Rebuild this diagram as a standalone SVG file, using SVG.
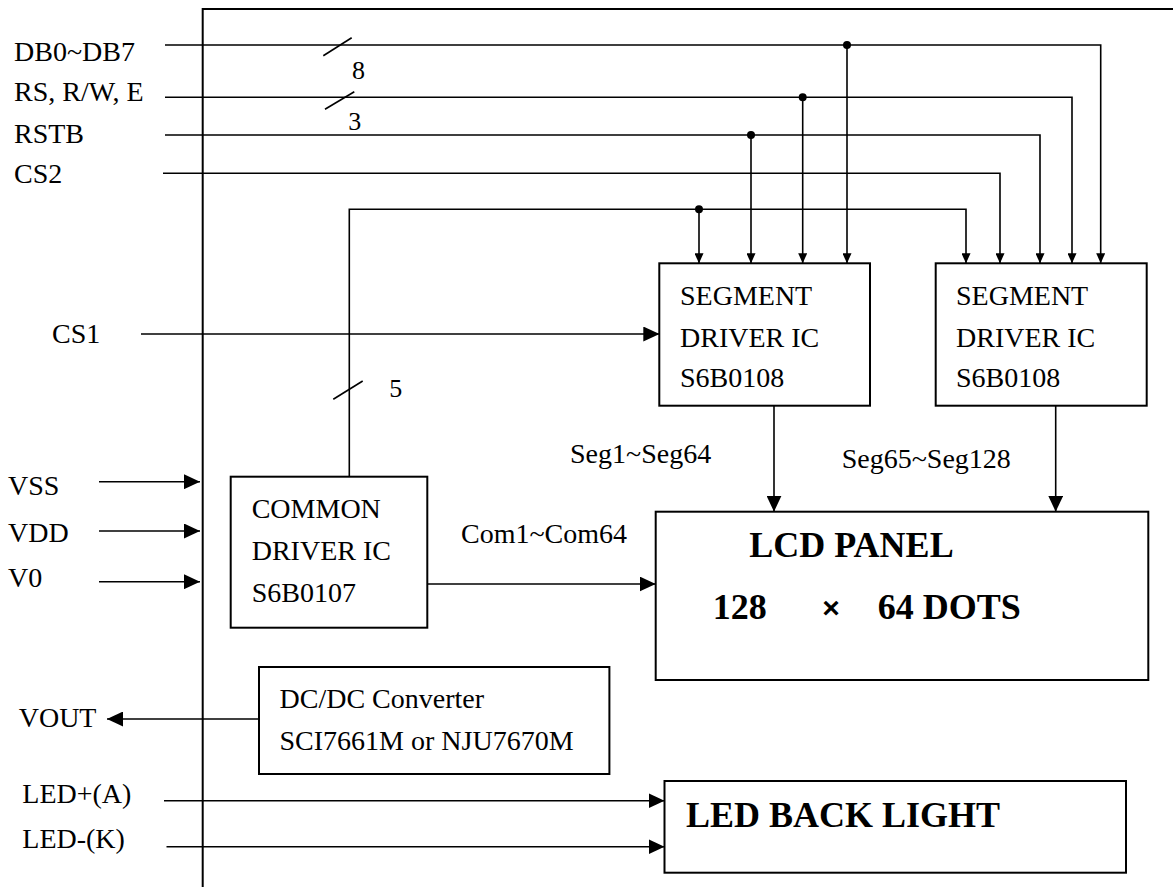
<svg xmlns="http://www.w3.org/2000/svg" width="1174" height="887" viewBox="0 0 1174 887">
<style>
.t{font-family:"Liberation Serif","Times New Roman",serif;font-size:28px;fill:#000}
.b{font-family:"Liberation Serif","Times New Roman",serif;font-size:36px;font-weight:bold;fill:#000}
.box{fill:#fff;stroke:#000;stroke-width:2}
.ln{fill:none;stroke:#000;stroke-width:1.6}
.fr{fill:none;stroke:#000;stroke-width:2}
</style>
<defs>
<marker id="as" markerUnits="userSpaceOnUse" markerWidth="10" markerHeight="9" refX="10" refY="4.5" orient="auto"><path d="M0,0 L10,4.5 L0,9 z" fill="#000"/></marker>
<marker id="am" markerUnits="userSpaceOnUse" markerWidth="16" markerHeight="15" refX="16" refY="7.5" orient="auto"><path d="M0,0 L16,7.5 L0,15 z" fill="#000"/></marker>
</defs>
<rect width="1174" height="887" fill="#fff"/>
<g id="frame">
<path class="fr" d="M202.7,887 V9 H1173"/>
</g>
<g id="connectors">
<path class="ln" d="M165,45 H1100.7 V263.3" marker-end="url(#as)"/>
<path class="ln" d="M847,45 V263.3" marker-end="url(#as)"/>
<path class="ln" d="M165,97.3 H1072 V263.3" marker-end="url(#as)"/>
<path class="ln" d="M802.7,97.3 V263.3" marker-end="url(#as)"/>
<path class="ln" d="M165,135 H1040 V263.3" marker-end="url(#as)"/>
<path class="ln" d="M751,135 V263.3" marker-end="url(#as)"/>
<path class="ln" d="M163,173.3 H1000 V263.3" marker-end="url(#as)"/>
<path class="ln" d="M349.3,476.7 V209.3 H966 V263.3" marker-end="url(#as)"/>
<path class="ln" d="M699,209.3 V263.3" marker-end="url(#as)"/>
<circle cx="847" cy="45" r="4"/>
<circle cx="802.7" cy="97.3" r="4"/>
<circle cx="751" cy="135" r="4"/>
<circle cx="699" cy="209.3" r="4"/>
<path class="ln" d="M323.3,55.7 L351.7,37.7"/>
<path class="ln" d="M325,109.3 L354.3,91.7"/>
<path class="ln" d="M333.3,399.3 L362.7,381"/>
<path class="ln" d="M141,334 H659.3" marker-end="url(#am)"/>
<path class="ln" d="M99,481.7 H200" marker-end="url(#am)"/>
<path class="ln" d="M99,531 H200" marker-end="url(#am)"/>
<path class="ln" d="M99,581.7 H200" marker-end="url(#am)"/>
<path class="ln" d="M427.3,584 H655.7" marker-end="url(#am)"/>
<path class="ln" d="M774,405.7 V511.7" marker-end="url(#am)"/>
<path class="ln" d="M1055.7,405.7 V511.7" marker-end="url(#am)"/>
<path class="ln" d="M259,719 H107" marker-end="url(#am)"/>
<path class="ln" d="M164,800.7 H664.5" marker-end="url(#am)"/>
<path class="ln" d="M166.5,846.7 H664.5" marker-end="url(#am)"/>
</g>
<g id="labels">
<text class="t" x="14" y="60.5">DB0~DB7</text>
<text class="t" x="14" y="100.5">RS, R/W, E</text>
<text class="t" x="14" y="143.3">RSTB</text>
<text class="t" x="14" y="183.3">CS2</text>
<text class="t" x="52" y="342.7">CS1</text>
<text class="t" x="8" y="495">VSS</text>
<text class="t" x="8" y="542">VDD</text>
<text class="t" x="8" y="587">V0</text>
<text class="t" x="18.7" y="727.3">VOUT</text>
<text class="t" x="22.3" y="802.7">LED+(A)</text>
<text class="t" x="22.3" y="848.3">LED-(K)</text>
<text class="t" x="352" y="79.3" style="font-size:26px">8</text>
<text class="t" x="348.3" y="130" style="font-size:26px">3</text>
<text class="t" x="389.3" y="397.3" style="font-size:26px">5</text>
<text class="t" x="570" y="463.3">Seg1~Seg64</text>
<text class="t" x="841.7" y="468.3">Seg65~Seg128</text>
<text class="t" x="461" y="542.7">Com1~Com64</text>
</g>
<g id="seg1">
<rect class="box" x="659.3" y="263.3" width="210.7" height="142.4"/>
<text class="t" x="680" y="305">SEGMENT</text>
<text class="t" x="680" y="347.3">DRIVER IC</text>
<text class="t" x="680" y="387.3">S6B0108</text>
</g>
<g id="seg2">
<rect class="box" x="935.7" y="263.3" width="211" height="142.4"/>
<text class="t" x="956" y="305">SEGMENT</text>
<text class="t" x="956" y="347.3">DRIVER IC</text>
<text class="t" x="956" y="387.3">S6B0108</text>
</g>
<g id="common">
<rect class="box" x="230.7" y="476.7" width="196.6" height="151"/>
<text class="t" x="251.7" y="518.3">COMMON</text>
<text class="t" x="251.7" y="560">DRIVER IC</text>
<text class="t" x="251.7" y="602">S6B0107</text>
</g>
<g id="lcd">
<rect class="box" x="655.7" y="511.7" width="492.6" height="168.3"/>
<text class="b" x="749.3" y="556.7">LCD PANEL</text>
<text class="b" y="619.3"><tspan x="712.7">128</tspan><tspan x="831" style="font-family:'Liberation Sans',Arial,sans-serif;font-size:30px" text-anchor="middle" y="617.5">×</tspan><tspan x="877.7" y="619.3">64 DOTS</tspan></text>
</g>
<g id="dcdc">
<rect class="box" x="259" y="667" width="350.4" height="107"/>
<text class="t" x="279.5" y="708.3">DC/DC Converter</text>
<text class="t" x="279.5" y="750">SCI7661M or NJU7670M</text>
</g>
<g id="backlight">
<rect class="box" x="664.5" y="781" width="461.5" height="91.7"/>
<text class="b" x="686" y="826.7">LED BACK LIGHT</text>
</g>
</svg>
